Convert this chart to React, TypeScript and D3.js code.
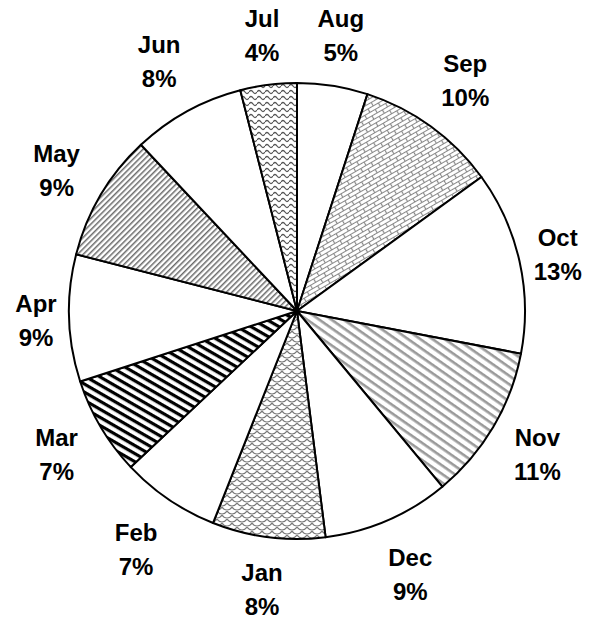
import React from "react";
import * as d3 from "d3";

const months = ["Aug", "Sep", "Oct", "Nov", "Dec", "Jan", "Feb", "Mar", "Apr", "May", "Jun", "Jul"];
const shares = [5, 10, 13, 11, 9, 8, 7, 7, 9, 9, 8, 4];
const fills = ["white", "url(#brick)", "white", "url(#stripesGray)", "white", "url(#scales)", "white", "url(#stripesBlack)", "white", "url(#diagFine)", "white", "url(#wave)"];

const W = 589;
const H = 619;
const cx = 297;
const cy = 311;
const R = 228;

function labelCenter(a: number, w: number, h: number, target: number) {
  const ux = Math.sin(a);
  const uy = -Math.cos(a);
  const minDist = (d: number) => {
    const x = d * ux;
    const y = d * uy;
    const nx = Math.max(x - w / 2, Math.min(0, x + w / 2));
    const ny = Math.max(y - h / 2, Math.min(0, y + h / 2));
    return Math.hypot(nx, ny);
  };
  let lo = 0;
  let hi = 600;
  for (let i = 0; i < 50; i++) {
    const m = (lo + hi) / 2;
    if (minDist(m) < target) lo = m;
    else hi = m;
  }
  return [hi * ux, hi * uy];
}

export default function App() {
  const pie = d3.pie<number>().sort(null).value((d) => d)(shares);
  const arc = d3.arc<d3.PieArcDatum<number>>().innerRadius(0).outerRadius(R);
  return (
    <svg width={W} height={H} style={{ position: "absolute", left: 0, top: 0, background: "white" }}>
      <defs>
        <pattern id="brick" patternUnits="userSpaceOnUse" width="12" height="8" patternTransform="rotate(-30)">
          <rect width="12" height="8" fill="white" />
          <path d="M0,0.5H12M0,4.5H12M0.5,0.5V4.5M6.5,4.5V8.5" stroke="#888" strokeWidth="1.2" fill="none" />
        </pattern>
        <pattern id="stripesGray" patternUnits="userSpaceOnUse" width="7" height="7" patternTransform="rotate(35)">
          <rect width="7" height="7" fill="white" />
          <rect width="7" height="2.6" fill="#9a9a9a" />
        </pattern>
        <pattern id="stripesBlack" patternUnits="userSpaceOnUse" width="7" height="7" patternTransform="rotate(30)">
          <rect width="7" height="7" fill="white" />
          <rect width="7" height="3.2" fill="#000" />
        </pattern>
        <pattern id="diagFine" patternUnits="userSpaceOnUse" width="4" height="4" patternTransform="rotate(-45)">
          <rect width="4" height="4" fill="white" />
          <rect width="4" height="1.5" fill="#6a6a6a" />
        </pattern>
        <pattern id="wave" patternUnits="userSpaceOnUse" width="8" height="6">
          <rect width="8" height="6" fill="white" />
          <path d="M0,3 Q2,0 4,3 T8,3" stroke="#555" strokeWidth="1.3" fill="none" />
        </pattern>
        <pattern id="scales" patternUnits="userSpaceOnUse" width="10" height="8">
          <rect width="10" height="8" fill="white" />
          <path d="M0,0 C2.5,4 7.5,4 10,0 M-5,4 C-2.5,8 2.5,8 5,4 M5,4 C7.5,8 12.5,8 15,4" stroke="#777" strokeWidth="1.2" fill="none" />
        </pattern>
      </defs>
      <g transform={`translate(${cx},${cy})`}>
        {pie.map((p, i) => (
          <path key={months[i]} d={arc(p) || ""} fill={fills[i]} stroke="#000" strokeWidth={2} strokeLinejoin="round" />
        ))}
        {pie.map((p, i) => {
          const a = (p.startAngle + p.endAngle) / 2;
          const [x, y] = labelCenter(a, 62, 94, R + 2);
          return (
            <text key={"l" + months[i]} x={x} y={y} textAnchor="middle" fontFamily="Liberation Sans, Arial, sans-serif" fontWeight="bold" fontSize={24} fill="#000">
              <tspan x={x} dy="-0.3em">{months[i]}</tspan>
              <tspan x={x} dy="1.42em">{shares[i] + "%"}</tspan>
            </text>
          );
        })}
      </g>
    </svg>
  );
}
